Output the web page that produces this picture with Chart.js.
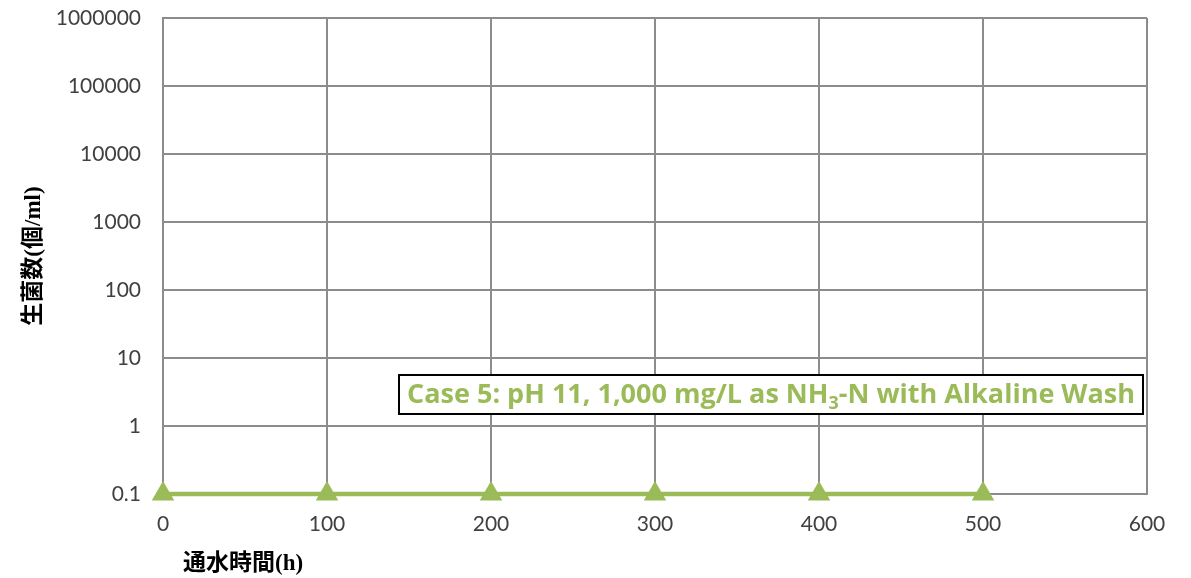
<!DOCTYPE html>
<html>
<head>
<meta charset="utf-8">
<script src="https://cdn.jsdelivr.net/npm/chart.js@4"></script>
<style>
  html, body { margin: 0; padding: 0; background: #fff; }
  #wrap { width: 1191px; height: 578px; }
</style>
</head>
<body>
<div id="wrap"><canvas id="c" width="1191" height="578"></canvas></div>
<script>
const hours = [0, 100, 200, 300, 400, 500];
const counts = [0.1, 0.1, 0.1, 0.1, 0.1, 0.1];
const yTicks = [0.1, 1, 10, 100, 1000, 10000, 100000, 1000000];
const seriesName = 'Case 5: pH 11, 1,000 mg/L as NH3-N with Alkaline Wash';
const xTitle = '通水時間(h)';
const yTitle = '生菌数(個/ml)';

const green = '#9BBB59';
const gridGray = '#8c8c8c';
const tickColor = '#404040';
const titleFont = '"Liberation Serif", "Noto Sans CJK JP", serif';

// legend box drawn over the plot, with subscript "3"
const legendBox = {
  id: 'legendBox',
  afterDraw: chart => {
    const ctx = chart.ctx;
    const a = chart.chartArea;
    ctx.save();
    const x0 = a.left + 236, y0 = a.top + 357, w = 744, h = 39;
    ctx.fillStyle = '#fff';
    ctx.fillRect(x0, y0, w, h);
    ctx.strokeStyle = '#000';
    ctx.lineWidth = 2;
    ctx.strokeRect(x0, y0, w, h);
    const parts = seriesName.split('NH3');
    const fs = 27;
    const big = 'bold ' + fs + 'px "Open Sans", Lato, sans-serif';
    const small = 'bold ' + Math.round(fs * 0.65) + 'px "Open Sans", Lato, sans-serif';
    ctx.font = big;
    const w1 = ctx.measureText(parts[0] + 'NH').width;
    const w3 = ctx.measureText(parts[1]).width;
    ctx.font = small;
    const w2 = ctx.measureText('3').width;
    const total = w1 + w2 + w3;
    let tx = x0 + (w - total) / 2;
    const ty = y0 + h / 2 + 1;
    ctx.fillStyle = green;
    ctx.textBaseline = 'middle';
    ctx.font = big;
    ctx.fillText(parts[0] + 'NH', tx, ty);
    tx += w1;
    ctx.font = small;
    ctx.fillText('3', tx, ty + 8);
    tx += w2;
    ctx.font = big;
    ctx.fillText(parts[1], tx, ty);
    ctx.restore();
  }
};

// x axis title sits near the left, like the original
const xTitlePlugin = {
  id: 'xTitlePlugin',
  afterDraw: chart => {
    const ctx = chart.ctx;
    const a = chart.chartArea;
    ctx.save();
    ctx.fillStyle = '#000';
    ctx.font = 'bold 23px ' + titleFont;
    ctx.textAlign = 'left';
    ctx.textBaseline = 'middle';
    ctx.fillText(xTitle, a.left + 20, 564);
    ctx.restore();
  }
};

new Chart(document.getElementById('c'), {
  type: 'line',
  plugins: [legendBox, xTitlePlugin],
  data: {
    datasets: [{
      label: seriesName,
      data: hours.map((h, i) => ({ x: h, y: counts[i] })),
      borderColor: green,
      backgroundColor: green,
      borderWidth: 4.5,
      pointStyle: 'triangle',
      pointRadius: 13,
      pointHoverRadius: 13,
      pointBorderWidth: 0,
      clip: false
    }]
  },
  options: {
    responsive: false,
    animation: false,
    layout: { padding: { left: 0, right: 44, top: 18, bottom: 0 } },
    plugins: {
      legend: { display: false },
      tooltip: { enabled: false }
    },
    scales: {
      x: {
        type: 'linear',
        min: 0,
        max: 600,
        afterFit: scale => {
          scale.height = 84;
          scale.paddingLeft = 0;
          scale.paddingRight = 0;
        },
        grid: { color: gridGray, lineWidth: 2, drawTicks: false },
        border: { color: gridGray, width: 2 },
        ticks: {
          stepSize: 100,
          color: tickColor,
          padding: 18,
          font: { family: 'Lato, "Open Sans", sans-serif', size: 21 }
        }
      },
      y: {
        type: 'logarithmic',
        min: 0.1,
        max: 1000000,
        afterFit: scale => {
          scale.width = 163;
          scale.paddingTop = 0;
          scale.paddingBottom = 0;
        },
        afterBuildTicks: scale => { scale.ticks = yTicks.map(v => ({ value: v })); },
        grid: { color: gridGray, lineWidth: 2, drawTicks: false },
        border: { color: gridGray, width: 2 },
        title: {
          display: true,
          text: yTitle,
          color: '#000',
          font: { family: titleFont, size: 23, weight: 'bold' },
          padding: { top: 20, bottom: 0 }
        },
        ticks: {
          color: tickColor,
          padding: 22,
          font: { family: 'Lato, "Open Sans", sans-serif', size: 21 },
          callback: v => String(v)
        }
      }
    }
  }
});
</script>
</body>
</html>
